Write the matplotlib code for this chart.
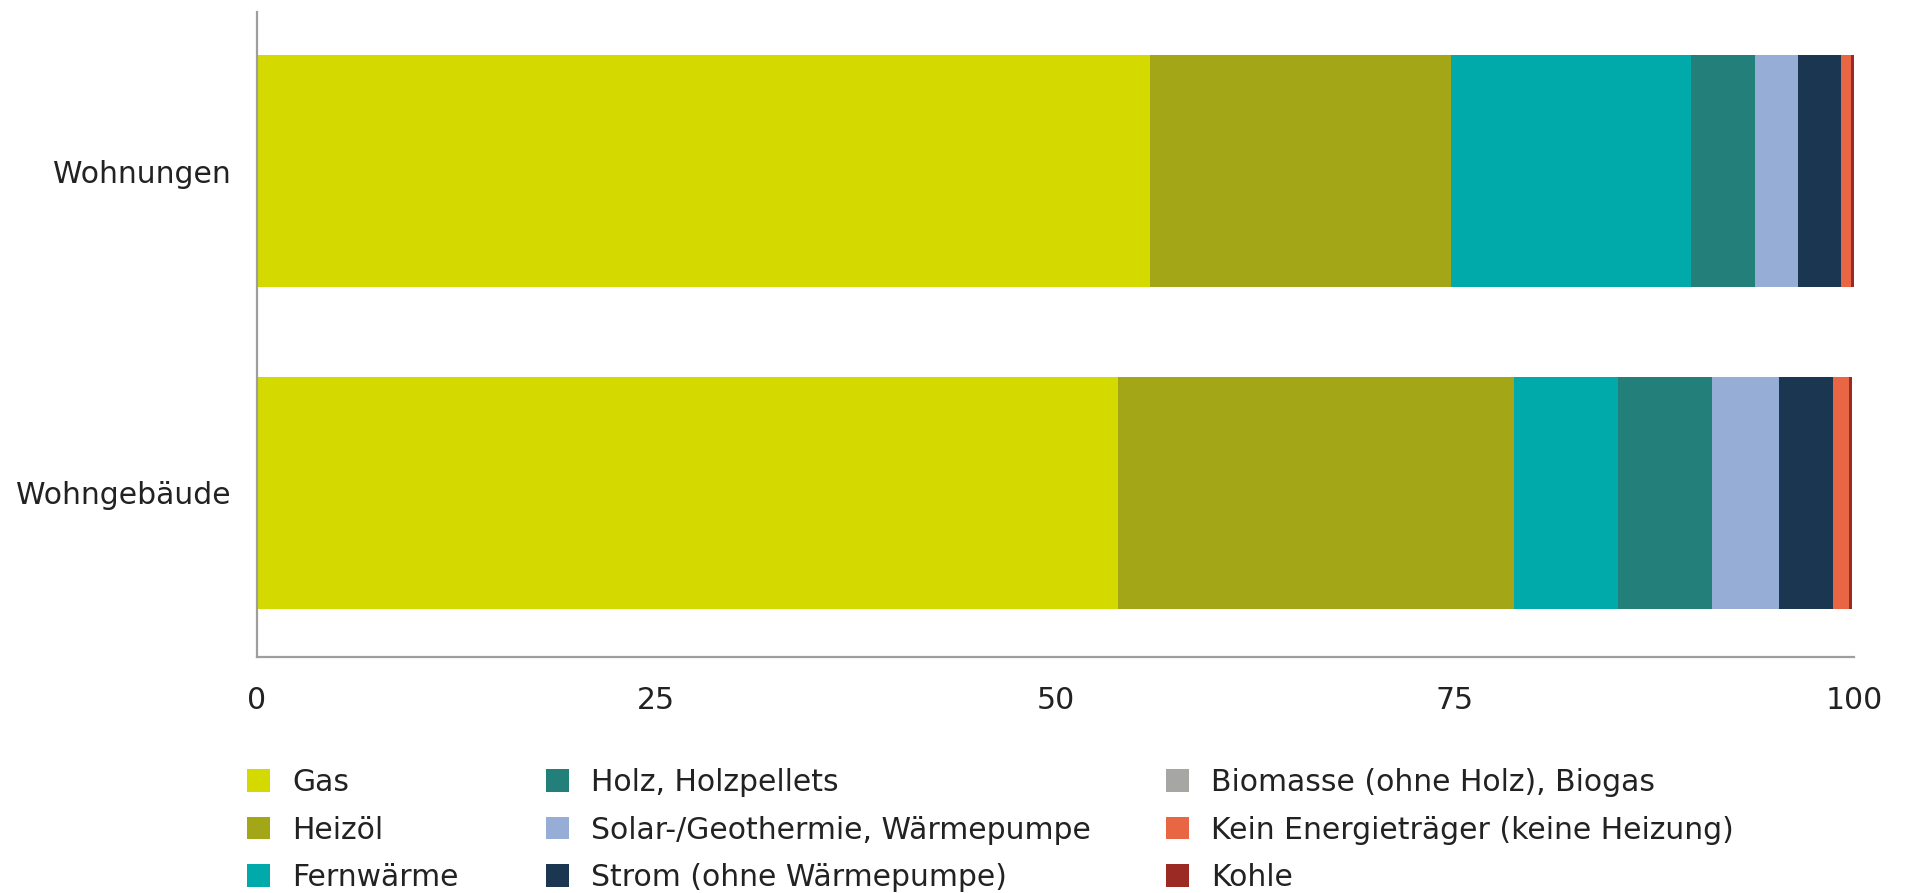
import matplotlib
matplotlib.use("Agg")
import matplotlib.pyplot as plt
from matplotlib.patches import Patch
import numpy as np

categories = ["Wohnungen", "Wohngebäude"]
series_names = [
    "Gas", "Heizöl", "Fernwärme",
    "Holz, Holzpellets", "Solar-/Geothermie, Wärmepumpe", "Strom (ohne Wärmepumpe)",
    "Biomasse (ohne Holz), Biogas", "Kein Energieträger (keine Heizung)", "Kohle",
]
gas = [55.9, 53.9]
heizoel = [18.9, 24.8]
fernwaerme = [15.0, 6.5]
holz = [4.0, 5.9]
solar = [2.7, 4.2]
strom = [2.7, 3.4]
biomasse = [0.0, 0.0]
kein = [0.6, 1.0]
kohle = [0.2, 0.2]
series_values = [gas, heizoel, fernwaerme, holz, solar, strom, biomasse, kein, kohle]
colors = ["#D4DA00", "#A3A617", "#00AAAA", "#227F7A", "#96AED6",
          "#1B3650", "#A6A6A2", "#E96645", "#9B2A24"]
xticks = [0, 25, 50, 75, 100]

plt.rcParams['font.family'] = ['DejaVu Sans']
FS = 21.5
FSPX = FS * 100 / 72

W, H = 1908, 893
fig = plt.figure(figsize=(W / 100, H / 100), dpi=100)
ax = fig.add_axes([256.7 / W, 1 - 656.7 / H, (1854 - 256.7) / W, (656.7 - 12) / H])

ypos = np.array([1, 0])
left = np.zeros(len(categories))
for name, vals, c in zip(series_names, series_values, colors):
    vals = np.array(vals)
    ax.barh(ypos, vals, left=left, height=0.72, color=c, label=name, linewidth=0)
    left += vals

ax.set_xlim(0, 100)
ax.set_ylim(-0.509, 1.494)
ax.set_xticks(xticks)
ax.set_xticklabels([str(t) for t in xticks])
ax.set_yticks(ypos)
ax.set_yticklabels(categories)
ax.tick_params(axis='both', length=0, labelsize=FS, colors='#222222')
ax.tick_params(axis='x', pad=21)
ax.tick_params(axis='y', pad=19)
for s in ['top', 'right']:
    ax.spines[s].set_visible(False)
for s in ['left', 'bottom']:
    ax.spines[s].set_color('#9E9E9E')
    ax.spines[s].set_linewidth(1.6)

handles = [Patch(facecolor=c, edgecolor='none', label=n) for n, c in zip(series_names, colors)]
col_x = [247, 546, 1166]
for i, cx in enumerate(col_x):
    fig.legend(handles=handles[i * 3:(i + 1) * 3], loc='upper left',
               bbox_to_anchor=(cx / W, 1 - 768 / H), frameon=False,
               fontsize=FS, borderpad=0, borderaxespad=0,
               handlelength=23 / FSPX, handleheight=23 / FSPX,
               handletextpad=22 / FSPX, labelspacing=0.62, labelcolor='#222222')

fig.savefig("out.png", dpi=100)
